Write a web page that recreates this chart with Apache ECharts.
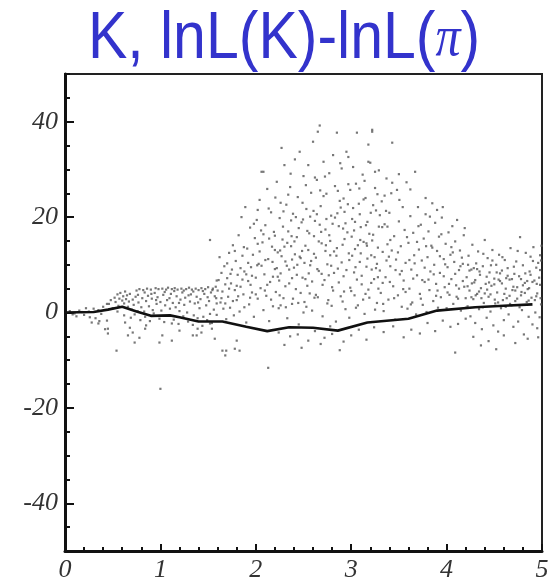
<!DOCTYPE html>
<html>
<head>
<meta charset="utf-8">
<title>K, lnL(K)-lnL(pi)</title>
<script src="https://cdn.jsdelivr.net/npm/echarts@6/dist/echarts.min.js"></script>
<style>
  html, body { margin: 0; padding: 0; background: #fff; }
  #chart { width: 556px; height: 584px; }
</style>
</head>
<body>
<div id="chart"></div>
<script>
// axis ticks
const yLabelValues = [-40, -20, 0, 20, 40]
const xLabelValues = [0, 1, 2, 3, 4, 5]

// mean curve
const meanLine = [
  [0, 0], [0.3, 0.1], [0.45, 0.6], [0.6, 1.2], [0.75, 0.2], [0.9, -0.7], [1.1, -0.6], [1.2, -1.0],
  [1.4, -1.9], [1.65, -1.9], [1.9, -3.0], [2.12, -3.9], [2.35, -3.1], [2.6, -3.2], [2.86, -3.8],
  [3.17, -2.1], [3.6, -1.3], [3.9, 0.4], [4.3, 1.1], [4.6, 1.4], [4.9, 1.7]
]

// scatter
const nearZero = [
  [0.05, 0.3], [0.1, -0.2], [0.15, 0.4], [0.2, -0.5], [0.25, 0.2], [0.3, 0.8], [0.32, -1.2], [0.35, 0.5],
  [0.38, -0.3], [0.28, -2.1], [0.22, 0.9], [0.12, -0.8], [0.4, 1.2], [0.36, -1.8], [0.42, -3.5], [0.44, 1.8],
  [0.18, 0.1], [0.08, -0.4], [0.26, -1.0], [0.35, -2.3], [0.44, -1.7], [0.45, -3.4], [0.45, -4.4]
]

const lowBand = [
  [0.46, 1.8], [0.48, 2.6], [0.5, 0.9], [0.52, 3.1], [0.53, 2.2], [0.55, 3.8], [0.56, 1.4], [0.57, 2.9],
  [0.58, 4.1], [0.6, 2.5], [0.61, 3.4], [0.62, 1.9], [0.63, 4.4], [0.64, 2.8], [0.65, 3.6], [0.66, 1.2],
  [0.67, 2.3], [0.68, 3.9], [0.7, 0.6], [0.71, 2.7], [0.72, 1.6], [0.74, 3.3], [0.75, 4.6], [0.76, 0.3],
  [0.77, 2.1], [0.78, 4.9], [0.8, 1.1], [0.81, 3.0], [0.82, 4.7], [0.83, 0.2], [0.85, 2.4], [0.86, 5.0],
  [0.87, 3.5], [0.88, 1.3], [0.9, 4.8], [0.91, 2.9], [0.92, 0.5], [0.94, 4.1], [0.95, 5.1], [0.96, 1.8],
  [0.97, 3.2], [0.98, 4.9], [1.0, 2.2], [1.01, 0.4], [1.02, 5.0], [1.03, 3.7], [1.05, 1.5], [1.06, 4.8],
  [1.07, 2.6], [1.08, 5.2], [1.1, 0.8], [1.11, 3.9], [1.12, 4.9], [1.13, 2.0], [1.15, 5.1], [1.16, 1.1],
  [1.17, 3.4], [1.18, 4.8], [1.2, 0.3], [1.21, 2.7], [1.22, 5.0], [1.23, 4.2], [1.25, 1.6], [1.26, 3.1],
  [1.27, 4.9], [1.28, 0.0], [1.3, 5.2], [1.31, 2.3], [1.32, 3.8], [1.33, 4.8], [1.35, -0.6], [1.36, 1.9],
  [1.37, 5.0], [1.38, 3.3], [1.4, 4.7], [1.41, 0.9], [1.42, 2.8], [1.43, 5.1], [1.45, -0.9], [1.46, 3.9],
  [1.47, 4.9], [1.48, 1.5], [1.5, 5.3], [1.51, 2.4], [1.52, -0.3], [1.53, 4.2], [1.55, 5.0], [1.56, 0.6],
  [1.57, 3.4], [1.58, 5.4], [1.59, 1.9], [1.6, 4.6], [1.59, 6.7], [1.52, 15.2],
  [0.55, 0.2], [0.62, -0.6], [0.69, -1.1], [0.73, -0.4], [0.79, -1.6], [0.84, -0.9], [0.89, -1.8],
  [0.93, -0.2], [0.99, -1.3], [1.04, -2.0], [1.09, -0.7], [1.14, -1.5], [1.19, -2.4], [1.24, -0.8],
  [1.29, -1.9], [1.34, -2.6], [1.39, -1.2], [1.44, -2.8], [1.49, -1.6], [1.54, -2.2], [1.59, -0.5],
  [0.905, 3.9], [0.955, 2.6], [1.045, 4.3], [1.095, 3.0], [1.145, 4.5], [1.195, 2.0], [1.245, 4.6],
  [1.295, 3.6], [1.345, 4.4], [1.395, 2.1], [1.445, 4.5], [1.495, 3.2], [1.545, 4.7], [1.585, 3.0],
  [0.835, 4.2], [0.765, 3.7]
]

const lowBelow = [
  [0.54, -8.0], [0.63, -2.1], [0.68, -3.2], [0.66, -4.8], [0.71, -4.2], [0.73, -6.3], [0.78, -5.3],
  [0.84, -3.4], [0.85, -2.7], [0.99, -6.3], [1.02, -4.8], [1.12, -5.9], [1.12, -2.3], [1.2, -3.8],
  [1.34, -4.8], [1.39, -3.4], [1.43, -4.2], [1.52, -2.3], [1.54, -3.4], [1.57, -5.5], [1.65, -8.0],
  [1.38, -4.8], [1.69, -8.0], [1.8, -5.9], [1.68, -9.0], [1.78, -7.6], [1.83, -8.0], [2.55, -5.9]
]

const risingCloud = [
  [1.61, 6.8], [1.62, 11.6], [1.63, 2.1], [1.64, 8.3], [1.65, 4.4], [1.66, 0.8], [1.67, 9.7], [1.68, 5.9],
  [1.69, -1.4], [1.7, 7.2], [1.71, 3.3], [1.72, 12.5], [1.73, 1.0], [1.74, 6.1], [1.75, 9.0], [1.76, 14.1],
  [1.77, -0.6], [1.78, 4.7], [1.79, 10.8], [1.8, 2.6], [1.81, 7.9], [1.82, 16.2], [1.83, 0.2], [1.84, 5.4],
  [1.85, 20.0], [1.86, 11.9], [1.87, 3.8], [1.88, 8.6], [1.89, 22.1], [1.9, -2.1], [1.91, 13.4], [1.92, 6.6],
  [1.93, 1.7], [1.94, 17.8], [1.95, 9.5], [1.96, 4.2], [1.97, 12.1], [1.98, -0.9], [1.99, 15.6], [2.0, 7.3],
  [2.01, 19.4], [2.02, 2.9], [2.03, 10.2], [2.04, 23.6], [2.05, 5.1], [2.06, 29.5], [2.07, 14.7], [2.08, 0.5],
  [2.09, 8.0], [2.1, 18.3], [2.11, 3.5], [2.12, 25.9], [2.13, 11.2], [2.14, -1.8], [2.15, 6.4], [2.16, 21.0],
  [2.17, 13.8], [2.18, 1.3], [2.19, 16.9], [2.2, 9.1],
  [1.64, 3.0], [1.68, 1.9], [1.72, 5.0], [1.76, 2.4], [1.8, 5.6], [1.84, 9.3], [1.88, 1.1], [1.92, 10.4],
  [1.96, 7.7], [2.0, 3.8], [2.04, 12.8], [2.08, 16.4], [2.12, 5.8], [2.16, 2.7], [2.2, 13.1], [1.7, 10.3],
  [1.78, 12.9], [1.86, 6.9], [1.94, 3.1], [2.02, 14.4], [2.1, 11.0], [2.18, 7.5], [2.06, 9.8], [1.98, 18.6],
  [1.9, 8.0], [2.08, 29.5],
  [1.735, 8.1], [1.815, 3.4], [1.875, 13.7], [1.945, 5.8], [2.015, 9.9], [2.055, 17.2], [2.095, 4.6],
  [2.135, 21.8], [2.175, 10.6], [2.02, 21.5], [2.14, 15.5]
]

const peakCloud = [
  [2.21, 4.3], [2.22, 27.4], [2.23, 12.6], [2.24, 0.9], [2.25, 19.8], [2.26, 8.2], [2.27, 34.5], [2.28, 15.3],
  [2.29, 3.0], [2.3, 30.9], [2.31, 10.7], [2.32, 22.6], [2.33, -1.2], [2.34, 17.0], [2.35, 6.1], [2.36, 26.3],
  [2.37, 13.9], [2.38, 1.8], [2.39, 20.7], [2.4, 9.4], [2.41, 32.1], [2.42, 4.9], [2.43, 15.8], [2.44, 24.2],
  [2.45, -2.5], [2.46, 33.7], [2.47, 11.4], [2.48, 18.9], [2.49, 7.3], [2.5, 28.6], [2.51, 2.2], [2.52, 14.0],
  [2.53, 21.7], [2.54, 5.6], [2.55, 30.9], [2.56, 16.6], [2.57, 9.9], [2.58, 25.1], [2.59, 0.4], [2.6, 35.8],
  [2.61, 12.3], [2.62, 19.2], [2.63, 3.7], [2.64, 27.8], [2.65, 37.9], [2.66, 8.7], [2.67, 39.2], [2.68, 22.3],
  [2.69, 14.5], [2.7, -0.8], [2.71, 31.6], [2.72, 6.8], [2.73, 17.4], [2.74, 24.9], [2.75, 10.1], [2.76, 2.6],
  [2.77, 29.2], [2.78, 15.0], [2.79, 20.3], [2.8, 5.3], [2.81, 33.0], [2.82, 12.8], [2.83, 26.5], [2.84, -1.9],
  [2.85, 37.7], [2.86, 9.2], [2.87, 18.1], [2.88, 23.4], [2.89, 3.4], [2.9, 30.2], [2.91, 14.2], [2.92, 7.6],
  [2.93, 21.1], [2.94, 0.7], [2.95, 33.7], [2.96, 16.8], [2.97, 32.6], [2.98, 11.0], [2.99, 25.7], [3.0, 4.5],
  [3.01, 19.6], [3.02, 30.5], [3.03, 8.4], [3.04, 13.3], [3.05, 27.0], [3.06, 37.7], [3.07, 1.5], [3.08, 22.8],
  [3.09, 10.6], [3.1, 17.9], [3.11, 5.9], [3.12, 28.9], [3.13, 14.8], [3.14, -0.3], [3.15, 24.0], [3.16, 9.6],
  [3.17, 19.0], [3.18, 35.2], [3.19, 3.1], [3.2, 31.4], [3.21, 12.0], [3.22, 38.3], [3.23, 16.3], [3.24, 7.0],
  [3.25, 26.1], [3.26, 21.4], [3.27, 2.0], [3.28, 13.6], [3.29, 29.8], [3.3, 8.8],
  [2.2, 16.1], [2.23, 7.5], [2.25, 3.6], [2.27, 11.8], [2.29, 21.2], [2.31, 5.5], [2.33, 14.6], [2.35, 9.0],
  [2.37, 19.3], [2.39, 2.9], [2.41, 12.2], [2.43, 7.9], [2.45, 17.7], [2.47, 4.1], [2.49, 23.0], [2.51, 10.4],
  [2.53, 1.2], [2.55, 13.1], [2.57, 20.1], [2.59, 6.5], [2.61, 16.0], [2.63, 11.5], [2.65, 3.2], [2.67, 18.4],
  [2.69, 8.1], [2.71, 24.4], [2.73, 12.9], [2.75, 1.9], [2.77, 16.2], [2.79, 9.8], [2.81, 4.6], [2.83, 19.9],
  [2.85, 13.5], [2.87, 6.3], [2.89, 22.0], [2.91, 2.3], [2.93, 15.4], [2.95, 8.9], [2.97, 26.9], [2.99, 5.2],
  [3.01, 11.9], [3.03, 17.2], [3.05, 1.0], [3.07, 14.1], [3.09, 20.6], [3.11, 7.7], [3.13, 23.7], [3.15, 3.9],
  [3.17, 11.3], [3.19, 16.5], [3.21, 6.2], [3.23, 22.5], [3.25, 0.6], [3.27, 10.2], [3.29, 18.0],
  [2.22, 9.3], [2.26, 1.5], [2.3, 13.8], [2.34, 24.7], [2.38, 7.2], [2.42, 20.0], [2.46, 11.7], [2.5, 0.0],
  [2.54, 17.1], [2.58, 10.8], [2.62, 28.3], [2.66, 14.9], [2.7, 5.8], [2.74, 19.6], [2.78, -2.9], [2.82, 8.3],
  [2.86, 25.5], [2.9, 10.5], [2.94, 18.7], [2.98, -1.1], [3.02, 21.9], [3.06, 6.9], [3.1, 12.4], [3.14, 27.6],
  [3.18, 4.8], [3.22, 15.1], [3.26, 9.3], [3.3, 20.4],
  [2.205, 24.1], [2.245, 6.7], [2.285, 18.0], [2.325, 9.8], [2.365, 29.1], [2.405, 14.9], [2.445, 2.0],
  [2.485, 12.9], [2.525, 26.7], [2.565, 4.0], [2.605, 21.3], [2.645, 9.1], [2.685, 16.9], [2.725, 28.5],
  [2.765, 7.8], [2.805, 18.6], [2.845, 11.9], [2.885, 31.3], [2.925, 4.4], [2.965, 22.7], [3.005, 15.9],
  [3.045, 9.5], [3.085, 26.0], [3.125, 2.7], [3.165, 14.0], [3.205, 20.9], [3.245, 11.6], [3.285, 5.0],
  [2.255, 13.0], [2.315, 1.1], [2.375, 16.0], [2.435, 10.0], [2.495, 19.5], [2.555, 8.2], [2.615, 3.1],
  [2.675, 25.6], [2.735, 14.1], [2.795, 1.4], [2.855, 20.8], [2.915, 17.6], [2.975, 12.4], [3.035, 3.6],
  [3.095, 15.2], [3.155, 18.3], [3.215, 9.0], [3.275, 24.8],
  [2.26, 23.0], [2.38, 11.1], [2.52, 7.0], [2.64, 20.6], [2.78, 12.0], [2.92, 23.9], [3.04, 19.0],
  [3.16, 14.5], [3.28, 7.4],
  [2.24, -4.2], [2.36, -5.0], [2.44, -4.6], [2.62, -3.9], [2.72, -5.3], [2.8, -4.5], [2.92, -6.1],
  [3.0, -4.8], [3.08, -3.6], [3.16, -5.7], [3.24, -3.1], [2.3, -6.8], [2.48, -7.4], [2.68, -6.6], [2.88, -7.9]
]

const fallingCloud = [
  [3.31, 4.1], [3.32, 23.3], [3.33, 12.7], [3.34, 0.3], [3.35, 18.5], [3.36, 7.4], [3.37, 28.1], [3.38, 14.3],
  [3.39, 2.7], [3.4, 20.9], [3.41, 9.7], [3.42, 25.0], [3.43, 35.6], [3.44, 5.5], [3.45, 16.0], [3.46, -1.5],
  [3.47, 11.1], [3.48, 25.7], [3.49, 3.6], [3.5, 19.1], [3.51, 8.0], [3.52, 13.9], [3.53, 1.2], [3.54, 22.1],
  [3.55, 6.7], [3.56, 17.3], [3.57, 10.4], [3.58, 27.3], [3.59, 0.8], [3.6, 14.6], [3.61, 5.0], [3.62, 20.2],
  [3.63, 9.0], [3.64, 2.1], [3.65, 16.7], [3.66, 12.0], [3.67, 29.5], [3.68, -0.4], [3.69, 7.8], [3.7, 22.1],
  [3.71, 13.2], [3.72, 3.9], [3.73, 18.4], [3.74, 10.9], [3.75, 1.6], [3.76, 15.5], [3.77, 6.4], [3.78, 20.6],
  [3.79, 0.1], [3.8, 11.6], [3.81, 17.0], [3.82, 4.7], [3.83, 8.6], [3.84, 14.0], [3.85, 22.9], [3.86, 2.4],
  [3.87, 10.0], [3.88, 18.8], [3.89, 6.0], [3.9, 12.9], [3.91, 1.0], [3.92, 15.9], [3.93, 8.3], [3.94, 3.2],
  [3.95, 19.9], [3.96, 22.1], [3.97, 11.2], [3.98, 5.3], [3.99, 14.4], [4.0, 0.9], [4.01, 9.5], [4.02, 16.8],
  [4.03, 3.7], [4.04, 12.1], [4.05, 7.0], [4.06, 18.1], [4.07, 1.8], [4.08, 10.6], [4.09, 14.9], [4.1, 5.7],
  [4.11, 19.4], [4.12, 2.9], [4.13, 8.9], [4.14, 13.0], [4.15, 0.4], [4.16, 11.5], [4.17, 6.6], [4.18, 16.2],
  [4.19, 17.7], [4.2, 3.0],
  [3.33, 6.2], [3.37, 10.9], [3.41, 15.2], [3.45, 3.0], [3.49, 12.6], [3.53, 8.7], [3.57, 4.3], [3.61, 11.0],
  [3.65, 7.1], [3.69, 14.8], [3.73, 2.9], [3.77, 9.4], [3.81, 6.9], [3.85, 13.6], [3.89, 3.5], [3.93, 11.8],
  [3.97, 7.6], [4.01, 4.2], [4.05, 13.7], [4.09, 8.1], [4.13, 5.0], [4.17, 10.2], [3.35, 24.5], [3.5, 29.0],
  [3.62, 25.8], [3.78, 24.0], [3.9, 21.5], [3.22, 37.9], [3.18, 31.6], [3.25, 29.5], [3.43, 27.2],
  [3.325, 17.9], [3.365, 21.3], [3.405, 6.4], [3.335, 1.8], [3.395, 11.7], [3.38, 18.0],
  [3.425, 13.0], [3.465, 8.9], [3.505, 23.6], [3.545, 4.9], [3.585, 15.8], [3.625, 1.7], [3.665, 10.3],
  [3.705, 18.1], [3.745, 6.8], [3.785, 13.9], [3.825, 20.1], [3.865, 8.0], [3.905, 4.6], [3.945, 16.4],
  [3.985, 10.1], [4.025, 6.0], [4.065, 12.6], [4.105, 3.3], [4.145, 9.7], [4.185, 5.4],
  [3.34, -4.1], [3.44, -2.9], [3.55, -5.2], [3.63, -3.6], [3.72, -4.4], [3.8, -2.2], [3.88, -3.9],
  [3.96, -1.7], [4.04, -3.0], [4.12, -2.4], [4.2, -1.3]
]

const tailCloud = [
  [4.21, 7.4], [4.22, 1.3], [4.23, 11.9], [4.24, 4.6], [4.25, -0.8], [4.26, 9.0], [4.27, 14.2], [4.28, 2.8],
  [4.29, 6.3], [4.3, -2.2], [4.31, 10.3], [4.32, 3.9], [4.33, 12.8], [4.34, 0.7], [4.35, 7.9], [4.36, 5.1],
  [4.37, -3.5], [4.38, 9.7], [4.39, 2.0], [4.4, 15.2], [4.41, 6.0], [4.42, -1.1], [4.43, 11.4], [4.44, 3.3],
  [4.45, 8.4], [4.46, 0.2], [4.47, 5.6], [4.48, 13.1], [4.49, -2.7], [4.5, 7.1], [4.51, 1.9], [4.52, 10.0],
  [4.53, 4.2], [4.54, -4.0], [4.55, 12.1], [4.56, 6.6], [4.57, 0.9], [4.58, 8.8], [4.59, 2.6], [4.6, -1.6],
  [4.61, 11.0], [4.62, 5.0], [4.63, 3.0], [4.64, 9.3], [4.65, -0.4], [4.66, 6.9], [4.67, 13.5], [4.68, 1.5],
  [4.69, 4.7], [4.7, -3.0], [4.71, 8.1], [4.72, 2.4], [4.73, 10.7], [4.74, 5.3], [4.75, -1.9], [4.76, 7.6],
  [4.77, 15.8], [4.78, 3.6], [4.79, 0.5], [4.8, 9.9], [4.81, -4.6], [4.82, 6.2], [4.83, 12.5], [4.84, 2.2],
  [4.85, 4.9], [4.86, -0.9], [4.87, 8.6], [4.88, 11.7], [4.89, 3.1], [4.9, -2.5], [4.91, 13.7], [4.92, 6.7],
  [4.93, 0.0], [4.94, 9.4], [4.95, 4.0], [4.96, -5.2], [4.97, 7.3], [4.98, 12.0], [4.99, 1.7], [4.95, -3.3],
  [4.98, 5.8],
  [4.22, 5.5], [4.26, 3.2], [4.3, 6.8], [4.34, 4.4], [4.38, 1.1], [4.42, 7.5], [4.46, 3.8], [4.5, 5.9],
  [4.54, 2.1], [4.58, 6.1], [4.62, 1.2], [4.66, 3.5], [4.7, 5.4], [4.74, 2.9], [4.78, 7.0], [4.82, 4.1],
  [4.86, 2.5], [4.9, 6.4], [4.94, 3.4], [4.98, 8.9], [4.24, 8.8], [4.32, 9.1], [4.4, 4.0], [4.48, 10.9],
  [4.56, 8.2], [4.64, 7.7], [4.72, 4.6], [4.8, 5.7], [4.88, 7.9], [4.96, 10.4],
  [4.225, 10.0], [4.265, 6.1], [4.305, 3.6], [4.345, 8.6], [4.385, 12.3], [4.425, 4.8], [4.465, 9.9],
  [4.505, 2.7], [4.545, 6.9], [4.585, 11.6], [4.625, 7.2], [4.665, 1.8], [4.705, 9.6], [4.745, 12.9],
  [4.785, 4.3], [4.825, 8.2], [4.865, 5.1], [4.905, 10.8], [4.945, 6.0], [4.985, 3.0], [4.995, 14.0],
  [4.99, 10.9], [4.975, -1.0], [4.205, 1.0], [4.285, 9.3], [4.365, 3.0], [4.445, 6.3], [4.525, 8.4],
  [4.605, 3.9], [4.685, 7.0], [4.765, 1.1], [4.845, 6.6], [4.925, 2.6],
  [4.28, -5.1], [4.44, -6.0], [4.6, -4.8], [4.72, -6.4], [4.85, -5.5], [4.52, -7.7], [4.36, -6.9]
]

const outliers = [[1.0, -16.0], [2.13, -11.6], [4.09, -8.4]]

const chart = echarts.init(document.getElementById('chart'))

const labelFont = {
  fontFamily: 'Liberation Serif',
  fontStyle: 'italic',
  fontSize: 26,
  color: '#333'
}

const option = {
  animation: false,
  backgroundColor: '#fff',
  graphic: [
    {
      type: 'text',
      x: 284,
      y: 40,
      scaleY: 1.12,
      silent: true,
      style: {
        text: 'K, lnL(K)-lnL({p|π})',
        x: 0,
        y: 0,
        align: 'center',
        verticalAlign: 'middle',
        fill: '#3333cc',
        font: '59px "Liberation Sans"',
        rich: {
          p: {
            fontFamily: 'Liberation Serif',
            fontStyle: 'italic',
            fontSize: 50,
            fill: '#3333cc'
          }
        }
      }
    }
  ],
  grid: {
    left: 65,
    right: 14,
    top: 74,
    bottom: 33,
    show: true,
    borderColor: '#222',
    borderWidth: 2
  },
  xAxis: {
    type: 'value',
    min: 0,
    max: 5,
    interval: 1,
    axisLine: { show: true, onZero: false, lineStyle: { color: '#111', width: 3 } },
    axisTick: { show: true, inside: true, length: 7, lineStyle: { color: '#111', width: 2 } },
    minorTick: { show: true, splitNumber: 5, length: 4, lineStyle: { color: '#111', width: 2 } },
    splitLine: { show: false },
    axisLabel: Object.assign({ margin: 6, customValues: xLabelValues }, labelFont)
  },
  yAxis: [
    {
      type: 'value',
      min: -50,
      max: 50,
      interval: 10,
      axisLine: { show: true, onZero: false, lineStyle: { color: '#111', width: 3 } },
      axisTick: { show: true, inside: true, length: 9, customValues: yLabelValues, lineStyle: { color: '#111', width: 2 } },
      splitLine: { show: false },
      axisLabel: Object.assign({ margin: 7, customValues: yLabelValues }, labelFont)
    },
    {
      // minor ticks every 5
      type: 'value',
      min: -50,
      max: 50,
      interval: 5,
      position: 'left',
      axisLine: { show: false },
      axisTick: { show: true, inside: true, length: 5, lineStyle: { color: '#111', width: 2 } },
      splitLine: { show: false },
      axisLabel: { show: false }
    }
  ],
  series: [
    {
      type: 'scatter',
      silent: true,
      symbol: 'rect',
      symbolSize: 2.2,
      itemStyle: { color: '#555', opacity: 0.8 },
      data: [].concat(nearZero, lowBand, lowBelow, risingCloud, peakCloud, fallingCloud, tailCloud, outliers)
    },
    {
      type: 'line',
      silent: true,
      showSymbol: false,
      lineStyle: { color: '#111', width: 2.6 },
      data: meanLine
    }
  ]
}

chart.setOption(option)
</script>
</body>
</html>
